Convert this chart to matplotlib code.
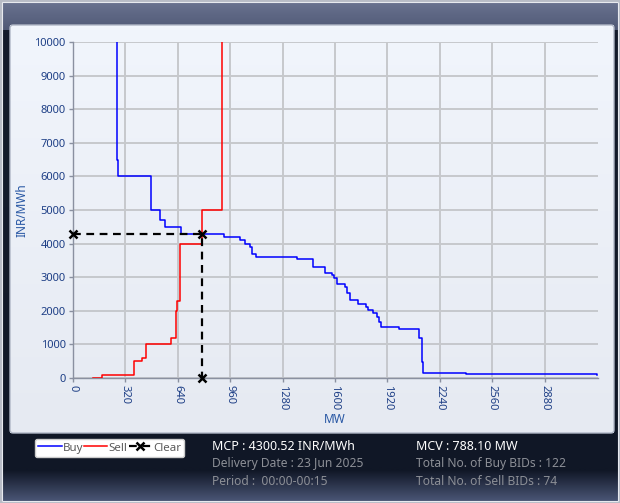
import numpy as np
import matplotlib
matplotlib.use('Agg')
import matplotlib.pyplot as plt
from matplotlib.patches import FancyBboxPatch, Rectangle

plt.rcParams['font.family'] = ['Noto Sans', 'DejaVu Sans']

# buy (demand) curve, step 'post': quantity in MW, price in INR/MWh
buy_mw = [268, 268, 278, 475, 532, 565, 660, 922, 1022, 1050, 1080, 1093, 1116,
          1369, 1468, 1537, 1580, 1596, 1611, 1661, 1676, 1694, 1739, 1790, 1804,
          1834, 1858, 1869, 1883, 1993, 2115, 2131, 2139, 2400, 2800, 3200]
buy_price = [10000, 6500, 6000, 5000, 4700, 4500, 4300, 4200, 4100, 4000, 3900, 3700, 3600,
             3550, 3300, 3115, 3065, 2966, 2807, 2718, 2520, 2321, 2202, 2123, 2024,
             1925, 1806, 1677, 1508, 1449, 1181, 485, 140, 125, 110, 100]

# sell (supply) curve
sell_mw = [125, 177, 374, 424, 447, 600, 628, 637, 654, 790, 912, 912]
sell_price = [0, 100, 500, 600, 1000, 1200, 2000, 2300, 4000, 5000, 10000, 10000]

mcp = 4300.52
mcv = 788.10
delivery_date = '23 Jun 2025'
period = '00:00-00:15'
n_buy = 122
n_sell = 74

x_ticks = list(range(0, 3200, 320))
y_ticks = list(range(0, 10001, 1000))

W, H = 620, 503
fig = plt.figure(figsize=(W / 100, H / 100), dpi=100)
fig.patch.set_facecolor('#111827')

# background frame drawn in pixel coords
bg = fig.add_axes([0, 0, 1, 1])
bg.set_xlim(0, W)
bg.set_ylim(H, 0)
bg.axis('off')


def vgrad(ax, x0, x1, y0, y1, c_top, c_bot):
    c0 = np.array(matplotlib.colors.to_rgb(c_top))
    c1 = np.array(matplotlib.colors.to_rgb(c_bot))
    t = np.linspace(0, 1, 64)[:, None]
    img = (c0 * (1 - t) + c1 * t)[:, None, :]
    ax.imshow(img, extent=(x0, x1, y1, y0), aspect='auto', interpolation='bilinear')


vgrad(bg, 2, W - 2, 2, 30, '#6a7390', '#4f5875')
vgrad(bg, 2, W - 2, 30, 470, '#151c2c', '#101726')
vgrad(bg, 2, W - 2, 470, H - 2, '#101726', '#4a5575')
bg.add_patch(Rectangle((0.5, 0.5), W - 1, H - 1, fill=False, ec='#b8bcc6', lw=1.5))
bg.add_patch(Rectangle((2, 2), W - 4, H - 4, fill=False, ec='#e8eaef', lw=0.8))

panel = FancyBboxPatch((10, 25), 604, 408, boxstyle='round,pad=0,rounding_size=3',
                       fc='none', ec='#b0b7c6', lw=1)
vgrad(bg, 10, 614, 25, 433, '#f1f5fc', '#e6eaf2')
bg.add_patch(panel)
bg.set_xlim(0, W)
bg.set_ylim(H, 0)

# main chart
ax = fig.add_axes([72.7 / W, 1 - 378 / H, 525 / W, 336 / H])
ax.patch.set_alpha(0)
ax.set_xlim(0, 3203)
ax.set_ylim(0, 10000)

ax.step(buy_mw, buy_price, where='post', color='#0000ff', lw=1.1, label='Buy', zorder=3)
ax.step(sell_mw, sell_price, where='post', color='#ff0000', lw=1.1, label='Sell', zorder=3)
ax.plot([0, mcv, mcv], [mcp, mcp, 0], color='black', ls=(0, (3.5, 2.5)), lw=1.6,
        marker='x', ms=6, mew=1.8, label='Clear', zorder=4, clip_on=False)

ax.set_xticks(x_ticks)
ax.set_yticks(y_ticks)
ax.set_xticklabels([str(v) for v in x_ticks], rotation=-90)
ax.grid(True, color='#c6c8cc', lw=1.4)
ax.set_axisbelow(True)
ax.tick_params(axis='both', colors='#8a90a0', labelcolor='#1e3f86', labelsize=8,
               length=3, width=1, direction='out', pad=2)
for s in ['top', 'right']:
    ax.spines[s].set_visible(False)
for s in ['left', 'bottom']:
    ax.spines[s].set_color('#8a90a0')
    ax.spines[s].set_linewidth(1)

ax.set_xlabel('MW', color='#2857a4', fontsize=8.5, labelpad=2)
ax.set_ylabel('INR/MWh', color='#2857a4', fontsize=8.5, labelpad=4)

leg = fig.legend(loc='upper left', bbox_to_anchor=(35 / W, 1 - 439 / H), ncol=3,
                 borderaxespad=0, fontsize=8.3, handlelength=2.0, handletextpad=0.1,
                 columnspacing=0.1, borderpad=0.3, frameon=True, fancybox=True,
                 labelcolor='#5a5a5a')
leg.get_frame().set_facecolor('white')
leg.get_frame().set_edgecolor('#cccccc')
leg.get_frame().set_alpha(1)

fig.text(212 / W, 1 - 446 / H, f'MCP : {mcp:.2f} INR/MWh', color='white', fontsize=9, va='center')
fig.text(212 / W, 1 - 463 / H, f'Delivery Date : {delivery_date}', color='#8c8f96', fontsize=8.7, va='center')
fig.text(212 / W, 1 - 481.5 / H, f'Period :  {period}', color='#8c8f96', fontsize=8.7, va='center')
fig.text(416 / W, 1 - 446 / H, f'MCV : {mcv:.2f} MW', color='white', fontsize=9, va='center')
fig.text(416 / W, 1 - 463 / H, f'Total No. of Buy BIDs : {n_buy}', color='#8c8f96', fontsize=8.7, va='center')
fig.text(416 / W, 1 - 481.5 / H, f'Total No. of Sell BIDs : {n_sell}', color='#8c8f96', fontsize=8.7, va='center')

fig.savefig('out.png', dpi=100, facecolor=fig.get_facecolor())
